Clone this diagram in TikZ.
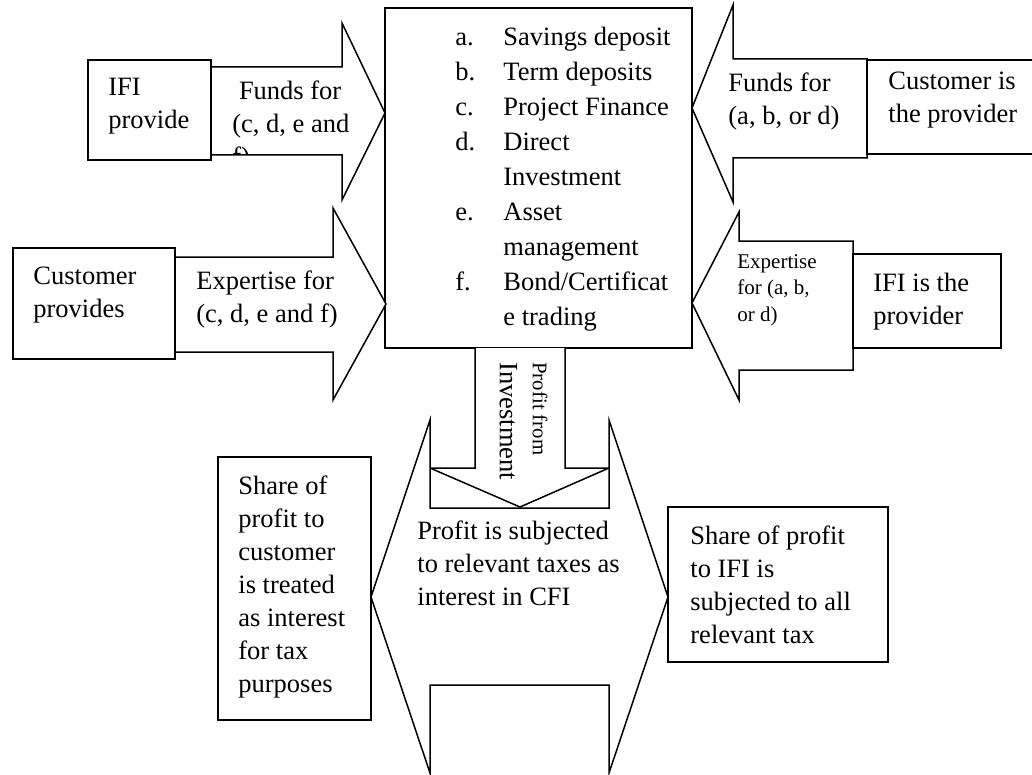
\documentclass[tikz,border=0pt]{standalone}
\usepackage{fontspec}
\setmainfont{Liberation Serif}
\usetikzlibrary{positioning}

\begin{document}
\begin{tikzpicture}[x=0.5pt,y=-0.5pt,
  blk/.style={draw=black,fill=white,line width=0.75pt,line join=miter},
  txt/.style={anchor=north west,inner sep=0,align=left,font=\fontsize{13.25}{16.5}\selectfont},
  small/.style={txt,font=\fontsize{10.5}{13.25}\selectfont}]
  \useasboundingbox (0,0) rectangle (1032,775);
  % products in the middle
  \draw[blk] (385,8) rectangle (692,348);
  \node[txt,font=\fontsize{13.25}{17.5}\selectfont] (list) at (455,27) {%
    \makebox[24pt][l]{a.}Savings deposit\\
    \makebox[24pt][l]{b.}Term deposits\\
    \makebox[24pt][l]{c.}Project Finance\\
    \makebox[24pt][l]{d.}Direct\\
    \hspace*{24pt}Investment\\
    \makebox[24pt][l]{e.}Asset\\
    \hspace*{24pt}management\\
    \makebox[24pt][l]{f.}Bond/Certificat\\
    \hspace*{24pt}e trading};

  % left side: IFI funds, customer expertise
  \draw[blk] (211,67) -- (342,67) -- (342,23) -- (385,113) -- (342,200) -- (342,155) -- (211,155) -- cycle;
  \begin{scope}
    \clip (211,67) rectangle (385,155);
    \node[txt] (fundsL) at (232,80) {\hspace*{3.3pt}Funds for\\(c, d, e and\\f)};
  \end{scope}
  \draw[blk] (88,60) rectangle (211,160);
  \node[txt] (ifiL) at (108,78) {IFI\\provide};

  \draw[blk] (175,257) -- (333,257) -- (333,208) -- (386,304) -- (333,400) -- (333,352) -- (175,352) -- cycle;
  \node[txt] (expL) at (196,270) {Expertise for\\(c, d, e and f)};
  \draw[blk] (13,248) rectangle (175,359);
  \node[txt] (custL) at (33,267) {Customer\\provides};

  % right side: customer funds, IFI expertise
  \draw[blk] (867,59) -- (733,59) -- (733,5) -- (692,108) -- (733,202) -- (733,158) -- (867,158) -- cycle;
  \node[txt] (fundsR) at (728,72) {Funds for\\(a, b, or d)};
  \draw[blk] (867,60) rectangle (1045,154);
  \node[txt] (custR) at (888,72) {Customer is\\the provider};

  \draw[blk] (853,241) -- (739,241) -- (739,212) -- (692,303) -- (739,400) -- (739,370) -- (853,370) -- cycle;
  \node[small] (expR) at (737,254) {Expertise\\for (a, b,\\or d)};
  \draw[blk] (853,254) rectangle (1001,348);
  \node[txt] (ifiR) at (873,273) {IFI is the\\provider};

  % profit going down, then split
  \draw[blk] (475,348) -- (475,468) -- (430,468) -- (520,507) -- (609,468) -- (565,468) -- (565,348);
  \node[txt,rotate=-90] (profit) at (548,362) {{\fontsize{10.4}{12}\selectfont Profit from}\\Investment};
  \draw[blk] (430,420) -- (371,597) -- (430,773) -- (430,685) -- (609,685) -- (609,773) -- (668,597) -- (609,420) -- (609,508) -- (430,508) -- cycle;
  \node[txt] (tax) at (417,520) {Profit is subjected\\to relevant taxes as\\interest in CFI};

  \draw[blk] (218,457) rectangle (371,720);
  \node[txt] (shareC) at (238,475) {Share of\\profit to\\customer\\is treated\\as interest\\for tax\\purposes};
  \draw[blk] (668,507) rectangle (888,662);
  \node[txt] (shareI) at (690,525) {Share of profit\\to IFI is\\subjected to all\\relevant tax};
\end{tikzpicture}
\end{document}
